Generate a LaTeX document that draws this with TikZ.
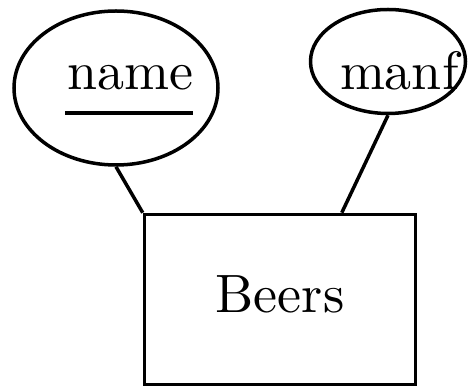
\documentclass[tikz,border=0pt]{standalone}
\usetikzlibrary{shapes.geometric,calc}
\begin{document}
\begin{tikzpicture}[x=1pt,y=1pt,
  line width=3.5pt,
  attr/.style={draw, ellipse, inner sep=0pt},
  entity/.style={draw, rectangle, inner sep=0pt, minimum width=271pt, minimum height=170pt},
  lbl/.style={inner sep=0pt, outer sep=0pt, font=\fontsize{10}{12}\selectfont, scale=5.4, transform shape},
  link/.style={line width=3.5pt}]
  \useasboundingbox (0,0) rectangle (468,390);

  % entity set
  \node[entity] (beers) at (280,90.5) {};
  \node[lbl, anchor=base] (beerstext) at (280,77) {Beers};

  % key attribute
  \node[attr, minimum width=204pt, minimum height=154pt] (name) at (116,302) {};
  \node[lbl, anchor=base west] (nametext) at (67,300) {name};
  \draw[line width=4pt] ([xshift=-2pt,yshift=-23pt]nametext.base west) -- ([yshift=-23pt]nametext.base east);

  % plain attribute
  \node[attr, minimum width=155pt, minimum height=104pt] (manf) at (388,328.5) {};
  \node[lbl, anchor=base west] (manftext) at (340,300) {manf};

  % attribute links
  \draw[link] (name.south) -- (beers.north west);
  \coordinate (manfjoin) at ($(beers.north west)!0.725!(beers.north east)$);
  \draw[link] (manf.south) -- (manfjoin);
\end{tikzpicture}
\end{document}
